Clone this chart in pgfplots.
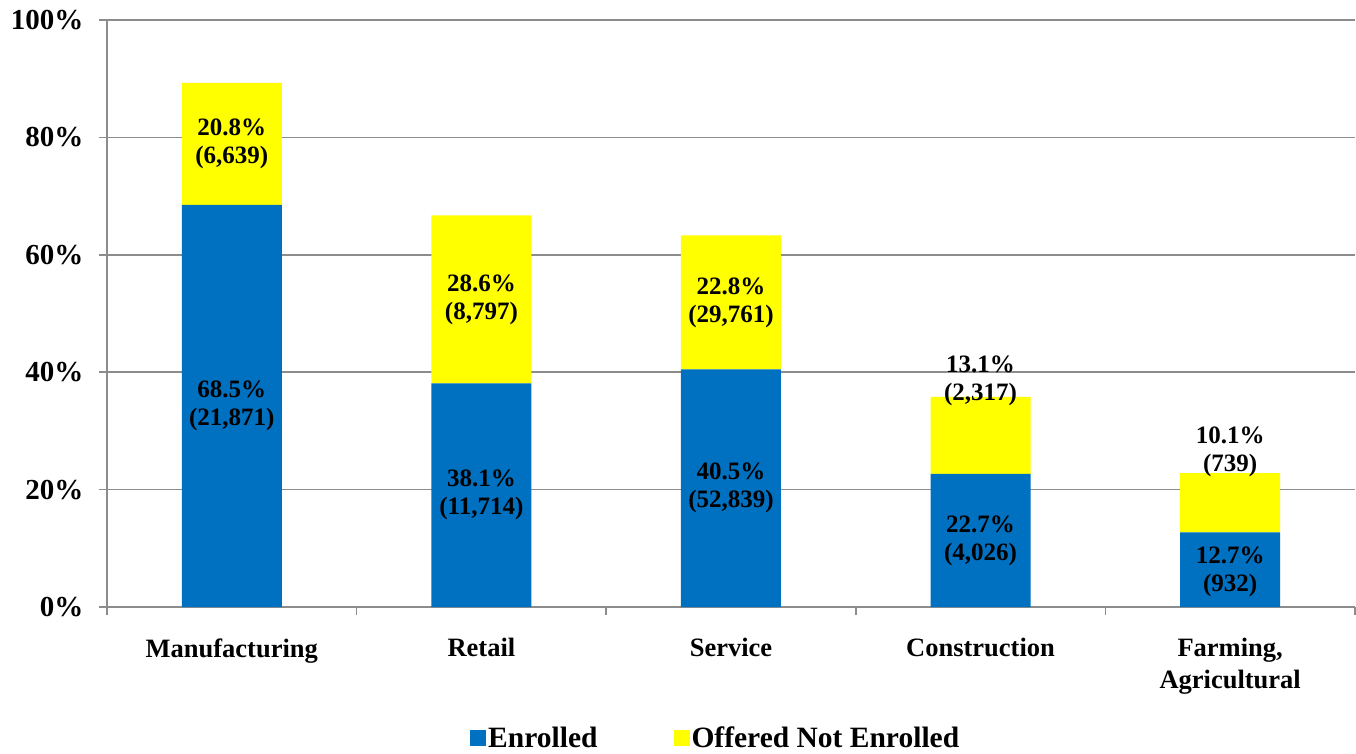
\documentclass[border=0pt]{standalone}
\usepackage{pgfplots}
\pgfplotsset{compat=1.18}
\usepackage{fontspec}
\setmainfont{Liberation Serif}
\definecolor{barblue}{HTML}{0070C0}
\definecolor{baryellow}{HTML}{FFFF00}
\definecolor{gridgray}{HTML}{8C8C8C}
\tikzset{lbl/.style={font=\fontsize{25}{28}\selectfont\bfseries, align=center}}
\begin{document}
\begin{tikzpicture}
\begin{axis}[
  at={(0pt,0pt)}, anchor=south west,
  scale only axis, width=1248pt, height=587pt,
  ybar stacked, bar width=100pt,
  xmin=-0.5, xmax=4.5, ymin=0, ymax=100,
  axis x line*=bottom, axis y line*=left,
  axis line style={gridgray, line width=1.5pt},
  xtick={-0.5,0.5,1.5,2.5,3.5,4.5},
  xticklabels={},
  extra x ticks={0,1,2,3,4},
  extra x tick labels={Manufacturing,Retail,Service,Construction,{Farming,\\Agricultural}},
  extra x tick style={major tick length=0pt},
  tick align=outside,
  major tick length=8pt,
  tick style={gridgray, line width=1.5pt},
  ytick={0,20,40,60,80,100},
  yticklabels={0\%,20\%,40\%,60\%,80\%,100\%},
  ymajorgrids, grid style={gridgray, line width=1.5pt},
  xticklabel style={font=\fontsize{26.5}{32}\selectfont\bfseries, align=center, yshift=-28pt},
  yticklabel style={font=\fontsize{29}{32}\selectfont\bfseries, xshift=-12pt},
  legend style={draw=none, fill=none, at={(0.2885,-0.2232)}, anchor=west,
    font=\fontsize{29.5}{32}\selectfont\bfseries, legend columns=2,
    /tikz/every even column/.append style={column sep=74pt}},
  legend image code/.code={\fill[#1] (0pt,-8pt) rectangle (16pt,8pt);},
  clip=false,
]
\addplot[fill=barblue, draw=none] coordinates {(0,68.5) (1,38.1) (2,40.5) (3,22.7) (4,12.7)};
\addplot[fill=baryellow, draw=none] coordinates {(0,20.8) (1,28.6) (2,22.8) (3,13.1) (4,10.1)};
\legend{Enrolled,Offered Not Enrolled}
\coordinate (e0) at (axis cs:0,34.25);
\coordinate (e1) at (axis cs:1,19.05);
\coordinate (e2) at (axis cs:2,20.25);
\coordinate (e3) at (axis cs:3,11.35);
\coordinate (e4) at (axis cs:4,6.0);
\coordinate (o0) at (axis cs:0,78.9);
\coordinate (o1) at (axis cs:1,52.4);
\coordinate (o2) at (axis cs:2,51.8);
\coordinate (o3) at (axis cs:3,38.5);
\coordinate (o4) at (axis cs:4,26.4);
\end{axis}
\node[lbl] at (e0) {68.5\%\\(21,871)};
\node[lbl] at (e1) {38.1\%\\(11,714)};
\node[lbl] at (e2) {40.5\%\\(52,839)};
\node[lbl] at (e3) {22.7\%\\(4,026)};
\node[lbl] at (e4) {12.7\%\\(932)};
\node[lbl] at (o0) {20.8\%\\(6,639)};
\node[lbl] at (o1) {28.6\%\\(8,797)};
\node[lbl] at (o2) {22.8\%\\(29,761)};
\node[lbl] at (o3) {13.1\%\\(2,317)};
\node[lbl] at (o4) {10.1\%\\(739)};
\pgfresetboundingbox
\path (-107pt,-146pt) rectangle (1249pt,607pt);
\end{tikzpicture}
\end{document}
